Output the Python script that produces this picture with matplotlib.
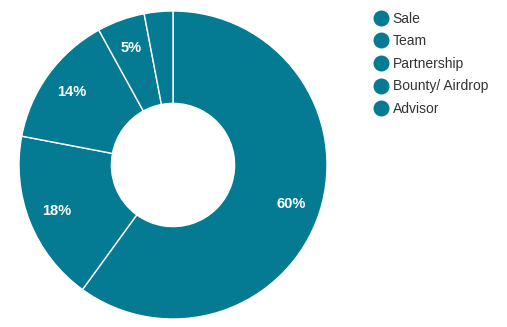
import numpy as np
import matplotlib.pyplot as plt
from matplotlib.lines import Line2D

plt.rcParams['font.family'] = ['Liberation Sans', 'DejaVu Sans']

labels = ['Sale', 'Team', 'Partnership', 'Bounty/ Airdrop', 'Advisor']
shares = [60, 18, 14, 5, 3]
color = '#047b93'

fig = plt.figure(figsize=(5.07, 3.27), dpi=100)
ax = fig.add_axes([19 / 507, 8 / 327, 308 / 507, 308 / 327])

wedges, _ = ax.pie(shares, startangle=90, counterclock=False, colors=[color] * len(shares),
                   radius=1, wedgeprops=dict(width=0.6, edgecolor='white', linewidth=1))

# percentage text inside the ring, smallest slice left blank
total = sum(shares)
start = 90.0
for s in shares:
    ang = start - 360 * s / total / 2
    start -= 360 * s / total
    if s < 4:
        continue
    r = 0.81
    ax.text(r * np.cos(np.radians(ang)), r * np.sin(np.radians(ang)), f'{s}%',
            ha='center', va='center', color='white', fontsize=10.5, fontweight='bold')

ax.set_xlim(-1, 1)
ax.set_ylim(-1, 1)
ax.set_aspect('equal')
ax.axis('off')

handles = [Line2D([], [], marker='o', linestyle='', markersize=10.5, color=color) for _ in labels]
fig.legend(handles, labels, loc='upper left', bbox_to_anchor=(365 / 507, 1 - 6 / 327),
           frameon=False, fontsize=10, labelcolor='#333333', handletextpad=0.1,
           labelspacing=0.62, borderaxespad=0, handlelength=1.5)

fig.savefig('out.png', dpi=100)
